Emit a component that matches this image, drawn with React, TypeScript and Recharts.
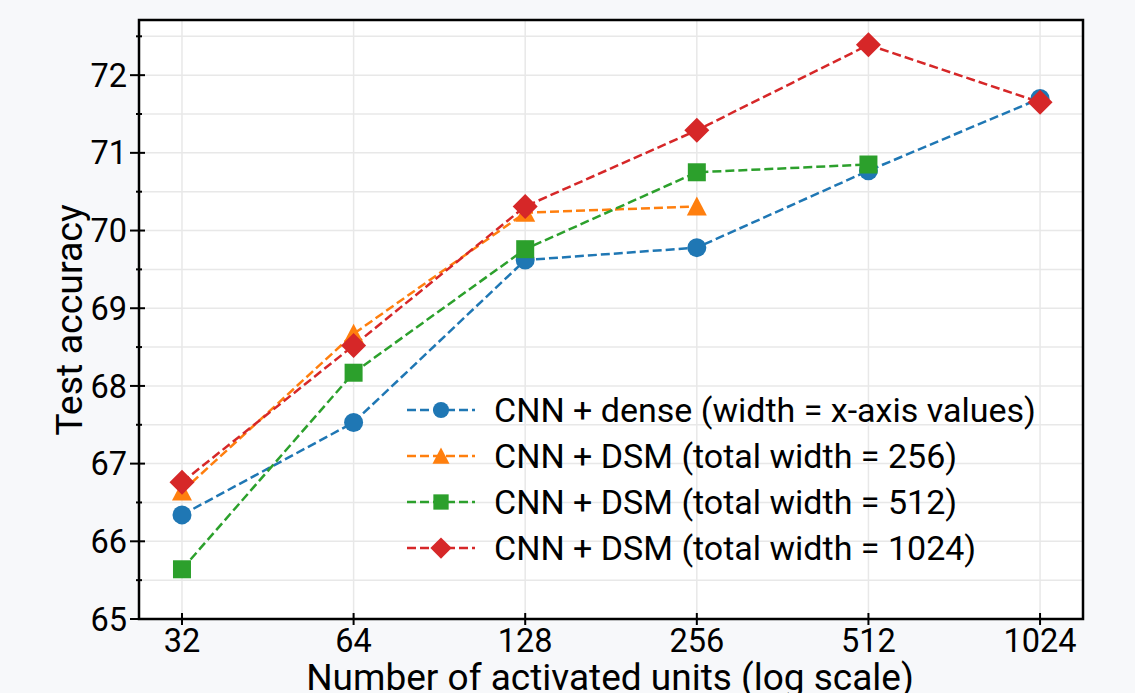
import React from "react";
import { LineChart, Line, XAxis, YAxis, CartesianGrid, ReferenceArea, Legend } from "recharts";

// units on the x axis (log scale) and accuracy per model
const units = [32, 64, 128, 256, 512, 1024];
const denseAcc = [66.34, 67.53, 69.62, 69.78, 70.77, 71.7];
const dsm256Acc = [66.64, 68.67, 70.23, 70.31];
const dsm512Acc = [65.64, 68.17, 69.76, 70.75, 70.85];
const dsm1024Acc = [66.76, 68.52, 70.31, 71.29, 72.39, 71.65];

const yTicks = [65, 66, 67, 68, 69, 70, 71, 72];
const yMinorTicks = [65.5, 66.5, 67.5, 68.5, 69.5, 70.5, 71.5, 72.5];

const X_DOMAIN = [26.9, 1218];
const Y_DOMAIN = [65, 72.71];
const FONT = "Roboto, 'DejaVu Sans', sans-serif";

type Shape = "circle" | "triangle" | "square" | "diamond";

const series: { key: string; name: string; color: string; shape: Shape; values: number[] }[] = [
  { key: "dense", name: "CNN + dense (width = x-axis values)", color: "#1f77b4", shape: "circle", values: denseAcc },
  { key: "dsm256", name: "CNN + DSM (total width = 256)", color: "#ff7f0e", shape: "triangle", values: dsm256Acc },
  { key: "dsm512", name: "CNN + DSM (total width = 512)", color: "#2ca02c", shape: "square", values: dsm512Acc },
  { key: "dsm1024", name: "CNN + DSM (total width = 1024)", color: "#d62728", shape: "diamond", values: dsm1024Acc },
];

const data = units.map((u, i) => {
  const row: Record<string, number | null> = { units: u };
  series.forEach((s) => {
    row[s.key] = s.values[i] ?? null;
  });
  return row;
});

function Marker({ shape, cx, cy, color, k = 1 }: { shape: Shape; cx: number; cy: number; color: string; k?: number }) {
  if (shape === "circle") return <circle cx={cx} cy={cy} r={9.5 * k} fill={color} />;
  if (shape === "triangle") {
    const h = 10 * k;
    return <polygon points={`${cx},${cy - h} ${cx - h},${cy + h * 0.9} ${cx + h},${cy + h * 0.9}`} fill={color} />;
  }
  if (shape === "square") {
    const h = 9 * k;
    return <rect x={cx - h} y={cy - h} width={2 * h} height={2 * h} fill={color} />;
  }
  const h = 12.5 * k;
  return <polygon points={`${cx},${cy - h} ${cx + h},${cy} ${cx},${cy + h} ${cx - h},${cy}`} fill={color} />;
}

function YTick(props: any) {
  const { x, y, payload } = props;
  const major = Number.isInteger(payload.value);
  return (
    <g>
      <line x1={x - (major ? 9 : 3)} x2={x + (major ? 6 : 3)} y1={y} y2={y} stroke="#000" strokeWidth={2} />
      {major && (
        <text x={x - 12} y={y + 11.6} textAnchor="end" fontSize={32.5} fontFamily={FONT} fill="#000">
          {payload.value}
        </text>
      )}
    </g>
  );
}

function XTick(props: any) {
  const { x, y, payload } = props;
  return (
    <g>
      <line x1={x} x2={x} y1={y - 6} y2={y + 6} stroke="#000" strokeWidth={2} />
      <text x={x} y={y + 33} textAnchor="middle" fontSize={32.5} fontFamily={FONT} fill="#000">
        {payload.value}
      </text>
    </g>
  );
}

function LegendBox() {
  return (
    <svg width={650} height={190}>
      {series.map((s, i) => {
        const cy = 25 + i * 46;
        return (
          <g key={s.key}>
            <line x1={7} x2={75} y1={cy} y2={cy} stroke={s.color} strokeWidth={2.5} strokeDasharray="9 4" />
            <Marker shape={s.shape} cx={41} cy={cy} color={s.color} k={0.85} />
            <text x={94} y={cy + 12} fontSize={34} fontFamily={FONT} fill="#000">
              {s.name}
            </text>
          </g>
        );
      })}
    </svg>
  );
}

export default function App() {
  return (
    <div style={{ position: "absolute", left: 0, top: 0, width: 1135, height: 693, background: "#f7f8fa", overflow: "hidden" }}>
      <LineChart width={1135} height={693} data={data} margin={{ top: 20, right: 52, bottom: 0, left: 0 }}>
        <CartesianGrid stroke="#e8e8e8" strokeWidth={1.5} fill="#fff" />
        <XAxis
          dataKey="units"
          type="number"
          scale="log"
          domain={X_DOMAIN}
          allowDataOverflow
          ticks={units}
          interval={0}
          height={74}
          axisLine={false}
          tickLine={false}
          tickSize={0}
          tickMargin={0}
          tick={<XTick />}
        />
        <YAxis
          type="number"
          domain={Y_DOMAIN}
          allowDataOverflow
          ticks={[...yTicks, ...yMinorTicks].sort((a, b) => a - b)}
          interval={0}
          width={139}
          axisLine={false}
          tickLine={false}
          tickSize={0}
          tickMargin={0}
          tick={<YTick />}
        />
        {series.map((s) => (
          <Line
            key={s.key}
            dataKey={s.key}
            name={s.name}
            type="linear"
            stroke={s.color}
            strokeWidth={2.5}
            strokeDasharray="9 4"
            isAnimationActive={false}
            activeDot={false}
            dot={(p: any) =>
              p.cx == null || p.cy == null || p.value == null ? (
                <g key={`${s.key}-${p.index}`} />
              ) : (
                <Marker key={`${s.key}-${p.index}`} shape={s.shape} cx={p.cx} cy={p.cy} color={s.color} />
              )
            }
          />
        ))}
        <ReferenceArea
          x1={X_DOMAIN[0]}
          x2={X_DOMAIN[1]}
          y1={Y_DOMAIN[0]}
          y2={Y_DOMAIN[1]}
          fill="none"
          stroke="#000"
          strokeWidth={2.5}
          ifOverflow="visible"
        />
        <Legend
          layout="vertical"
          align="center"
          verticalAlign="middle"
          content={() => <LegendBox />}
          wrapperStyle={{ left: 400, top: 385, width: 650, height: 190 }}
        />
      </LineChart>
      <svg width={1135} height={693} style={{ position: "absolute", left: 0, top: 0, pointerEvents: "none" }}>
        <text x={610} y={690} textAnchor="middle" fontSize={37} fontFamily={FONT} fill="#000">
          Number of activated units (log scale)
        </text>
        <text
          x={82}
          y={320}
          transform="rotate(-90 82 320)"
          textAnchor="middle"
          fontSize={37.5}
          fontFamily={FONT}
          fill="#000"
        >
          Test accuracy
        </text>
      </svg>
    </div>
  );
}
